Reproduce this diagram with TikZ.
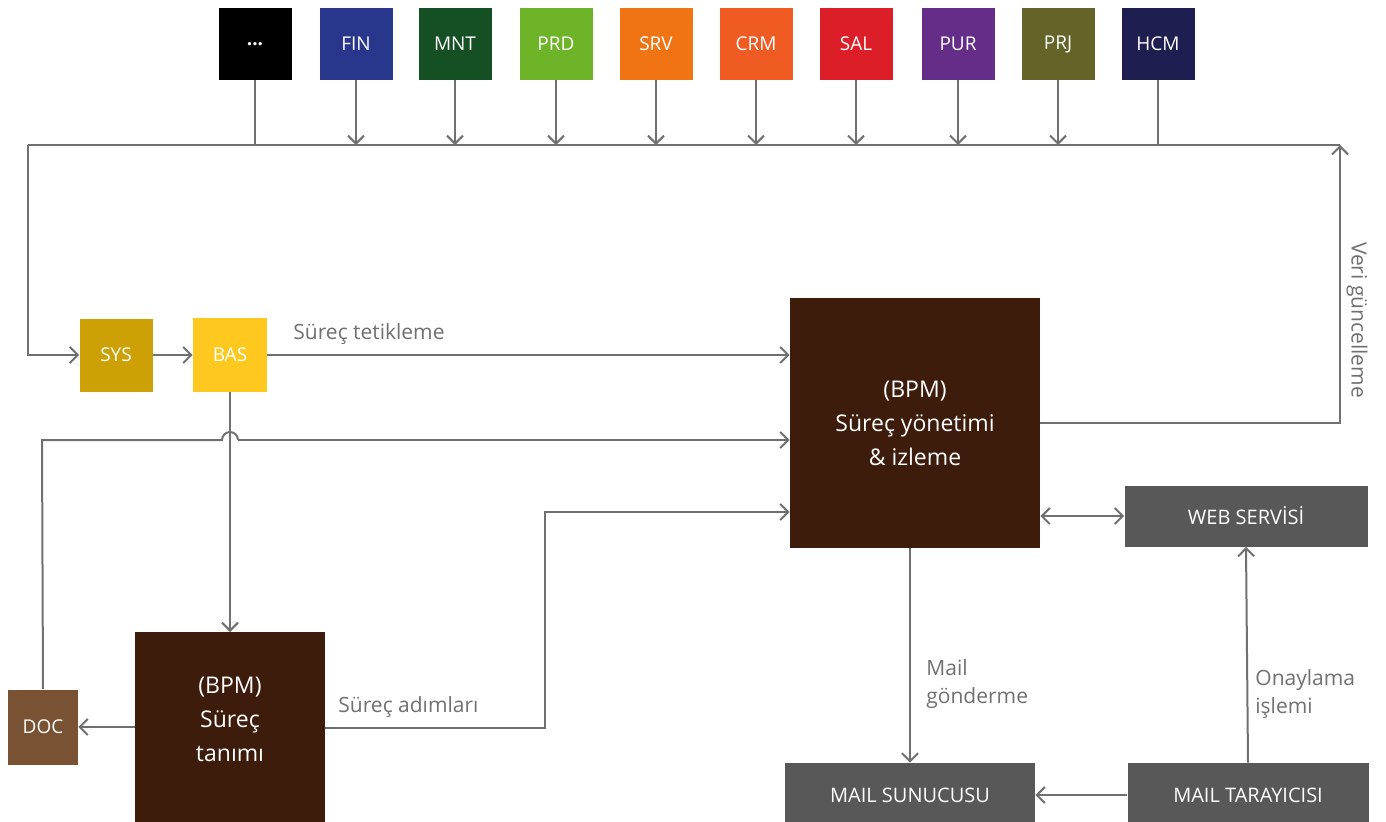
\documentclass[tikz,border=0pt]{standalone}
\usepackage{fontspec}
\setmainfont{Open Sans}
\usetikzlibrary{arrows.meta}
\definecolor{lc}{RGB}{112,112,112}
\definecolor{cdots}{RGB}{0,0,0}
\definecolor{cfin}{RGB}{40,55,140}
\definecolor{cmnt}{RGB}{20,80,35}
\definecolor{cprd}{RGB}{110,180,40}
\definecolor{csrv}{RGB}{240,115,20}
\definecolor{ccrm}{RGB}{240,90,35}
\definecolor{csal}{RGB}{220,30,40}
\definecolor{cpur}{RGB}{100,45,135}
\definecolor{cprj}{RGB}{100,100,40}
\definecolor{chcm}{RGB}{30,30,80}
\definecolor{csys}{RGB}{205,160,5}
\definecolor{cbas}{RGB}{255,200,30}
\definecolor{cbpm}{RGB}{62,28,12}
\definecolor{cdoc}{RGB}{120,82,50}
\definecolor{cgray}{RGB}{88,88,88}
\tikzset{
  x=0.5pt, y=-0.5pt,
  mod/.style={fill=#1, text=white, inner sep=0pt, minimum width=36.5pt, minimum height=36pt, font=\fontsize{9.5}{11}\selectfont},
  sq/.style={fill=#1, text=white, inner sep=0pt, minimum width=36.5pt, minimum height=36.5pt, font=\fontsize{9.5}{11}\selectfont},
  big/.style={fill=cbpm, text=white, inner sep=0pt, align=center, font=\fontsize{11.5}{17}\selectfont},
  gbox/.style={fill=cgray, text=white, inner sep=0pt, font=\fontsize{10}{12}\selectfont},
  conn/.style={draw=lc, line width=1pt},
  arr/.style={conn, -{Straight Barb[length=4pt,width=8pt,line width=1pt]}},
  lbl/.style={text=lc, inner sep=0pt, font=\fontsize{10.5}{14}\selectfont, align=left},
}
\begin{document}
\begin{tikzpicture}
\useasboundingbox (0,0) rectangle (1386,821);
% top modules
\node[mod=cdots] (DOTS) at (255,44) {\textbf{...}};
\node[mod=cfin] (FIN) at (356,44) {FIN};
\node[mod=cmnt] (MNT) at (455,44) {MNT};
\node[mod=cprd] (PRD) at (556,44) {PRD};
\node[mod=csrv] (SRV) at (656,44) {SRV};
\node[mod=ccrm] (CRM) at (756,44) {CRM};
\node[mod=csal] (SAL) at (856,44) {SAL};
\node[mod=cpur] (PUR) at (958,44) {PUR};
\node[mod=cprj] (PRJ) at (1058,44) {PRJ};
\node[mod=chcm] (HCM) at (1158,44) {HCM};
\coordinate (busL) at (28,145);
\coordinate (busR) at (1340,145);
% main nodes
\node[sq=csys] (SYS) at (116,355) {SYS};
\node[sq=cbas, minimum width=37pt, minimum height=37pt] (BAS) at (230,355) {BAS};
\node[big, minimum width=125pt, minimum height=125pt] (BPM) at (915,423) {(BPM)\\Süreç yönetimi\\\& izleme};
\node[big, minimum width=95pt, minimum height=100pt, anchor=north] (BPMT) at (230,632) {};
\node[big, anchor=center] at (230,719) {(BPM)\\Süreç\\tanımı};
\node[sq=cdoc, minimum width=35pt, minimum height=37.5pt] (DOC) at (43,727) {DOC};
\node[gbox, minimum width=121.5pt, minimum height=30.5pt] (WS) at (1246,516) {WEB SERVİSİ};
\node[gbox, minimum width=125pt, minimum height=32pt] (MS) at (910,795) {MAIL SUNUCUSU};
\node[gbox, minimum width=120.5pt, minimum height=32pt] (MT) at (1248,795) {MAIL TARAYICISI};
% module connectors
\draw[conn] (DOTS.south) -- (DOTS.south |- busL);
\foreach \m in {FIN,MNT,PRD,SRV,CRM,SAL,PUR,PRJ}
  \draw[arr] (\m.south) -- (\m.south |- busL);
\draw[conn] (HCM.south) -- (HCM.south |- busL);
\draw[conn] (busR) -- (busL);
\draw[arr] (busL) |- (SYS.west);
\draw[arr] (SYS.east) -- (BAS.west);
\draw[arr] (BAS.east) -- (BAS.east -| BPM.west);
\node[lbl, anchor=south west] at (293,345) {Süreç tetikleme};
% update loop
\coordinate (upd) at (1340,423);
\draw[arr] (BPM.east) -- (upd) -- (busR);
\node[lbl, rotate=-90] at (1357,320) {Veri güncelleme};
% BAS down to process definition
\draw[arr] (BAS.south) -- (BPMT.north);
% DOC loop with hop
\coordinate (docup) at (42,440);
\draw[conn] (DOC.north) -- (docup) -- (222,440) arc[start angle=180, end angle=0, radius=4pt] -- (238,440);
\draw[arr] (238,440) -- (BPM.west |- docup);
\draw[arr] (BPMT.west |- DOC.east) -- (DOC.east);
% process steps
\coordinate (stp) at (545,728);
\draw[arr] (BPMT.east |- stp) -- (stp) |- (BPM.west |- 0,512);
\node[lbl, anchor=south west] at (338,718) {Süreç adımları};
% mail
\draw[arr] (BPM.south -| MS.north) -- (MS.north);
\node[lbl, anchor=west] at (926,684) {Mail\\gönderme};
\draw[arr] (MT.west) -- (MS.east);
\draw[arr] (MT.north) -- (WS.south);
\node[lbl, anchor=west] at (1255,694) {Onaylama\\işlemi};
\draw[arr, {Straight Barb[length=4pt,width=8pt,line width=1pt]}-{Straight Barb[length=4pt,width=8pt,line width=1pt]}] (BPM.east |- WS.west) -- (WS.west);
\end{tikzpicture}
\end{document}
